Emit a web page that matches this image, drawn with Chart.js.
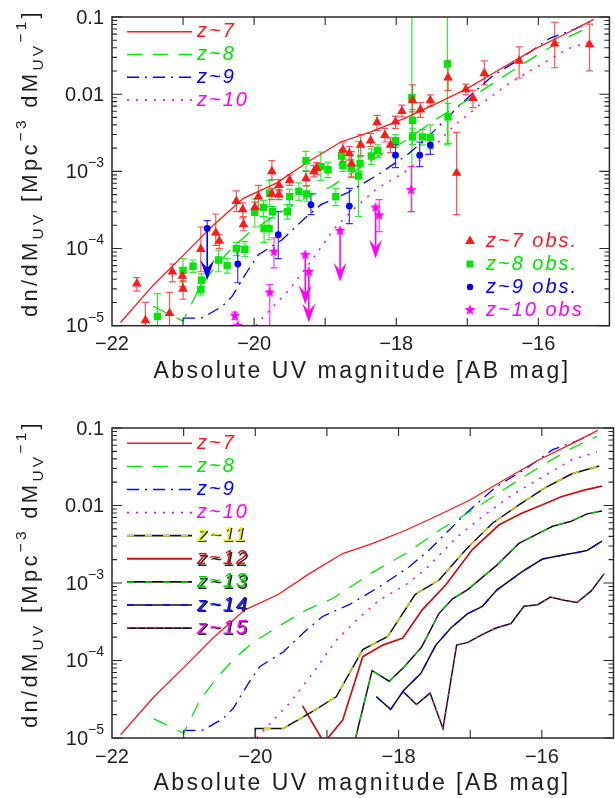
<!DOCTYPE html>
<html>
<head>
<meta charset="utf-8">
<script src="https://cdn.jsdelivr.net/npm/chart.js@4.4.1/dist/chart.umd.min.js"></script>
<style>
  html, body { margin: 0; padding: 0; background: #fff; }
  #wrap { position: relative; width: 615px; height: 798px; }
  #wrap canvas { position: absolute; left: 0; }
  #lfTop { top: 0; }
  #lfBottom { top: 399px; }
</style>
</head>
<body>
<div id="wrap">
  <canvas id="lfTop" width="615" height="399"></canvas>
  <canvas id="lfBottom" width="615" height="399"></canvas>
</div>
<script>
// ---------- axes ----------
const magMin = -22, magMax = -15;
const phiMin = 1e-5, phiMax = 0.1;
const xTickValues = [-22, -20, -18, -16];
const xTickLabels = ['\u221222', '\u221220', '\u221218', '\u221216'];
const yTickValues = [0.1, 0.01, 1e-3, 1e-4, 1e-5];
const yTickBase = ['0.1', '0.01', '10', '10', '10'];
const yTickExp = ['', '', '\u22123', '\u22124', '\u22125'];

// ---------- model UV luminosity functions [M_UV, dn/dM] ----------
const modelZ7 = [[-21.88,1.10e-5],[-21.42,3.35e-5],[-21.00,8.1e-5],[-20.59,1.95e-4],[-20.15,4.47e-4],
  [-19.68,7.1e-4],[-19.24,1.33e-3],[-18.78,2.40e-3],[-18.36,3.24e-3],[-17.90,4.79e-3],[-17.43,7.6e-3],
  [-17.01,1.17e-2],[-16.60,1.95e-2],[-16.04,3.89e-2],[-15.58,6.3e-2],[-15.22,9.3e-2]];
const modelZ8 = [[-21.42,1.78e-5],[-21.00,1.15e-5],[-20.77,3.09e-5],[-20.54,5.9e-5],[-20.31,1.02e-4],
  [-20.05,1.66e-4],[-19.68,2.75e-4],[-19.29,4.47e-4],[-18.92,6.3e-4],[-18.36,1.38e-3],[-17.90,2.40e-3],
  [-17.43,4.79e-3],[-16.97,8.7e-3],[-16.64,1.38e-2],[-16.32,2.14e-2],[-15.95,3.5e-2],[-15.58,5.5e-2],[-15.23,7.8e-2]];
const modelZ9 = [[-21.00,1.25e-5],[-20.73,1.26e-5],[-20.45,1.78e-5],[-20.31,2.4e-5],[-20.10,5.0e-5],
  [-19.94,8.3e-5],[-19.61,1.29e-4],[-19.29,2.45e-4],[-19.06,3.7e-4],[-18.69,5.25e-4],[-18.27,8.9e-4],
  [-17.85,1.62e-3],[-17.57,2.69e-3],[-17.06,7.9e-3],[-16.64,1.74e-2],[-16.22,3.0e-2],[-15.85,5.25e-2],
  [-15.48,7.0e-2],[-15.25,8.9e-2]];
const modelZ10 = [[-19.98,1.0e-5],[-19.75,1.70e-5],[-19.52,2.82e-5],[-19.20,6.8e-5],[-18.87,1.82e-4],
  [-18.59,3.3e-4],[-18.27,6.0e-4],[-17.90,9.5e-4],[-17.62,1.51e-3],[-17.20,3.8e-3],[-16.83,7.2e-3],
  [-16.41,1.38e-2],[-15.99,2.34e-2],[-15.58,3.9e-2],[-15.23,4.9e-2]];
const modelZ11 = [[-20.00,1.0e-5],[-20.00,1.33e-5],[-19.61,1.33e-5],[-19.24,2.1e-5],[-18.87,3.4e-5],
  [-18.50,1.38e-4],[-18.15,2.04e-4],[-17.77,7.1e-4],[-17.43,1.10e-3],[-17.06,2.7e-3],[-16.69,5.9e-3],
  [-16.32,1.02e-2],[-15.95,1.70e-2],[-15.58,2.57e-2],[-15.20,3.24e-2]];
const modelZ12 = [[-19.34,2.6e-5],[-19.04,8.7e-6],[-18.78,1.7e-5],[-18.50,1.12e-4],[-18.22,1.58e-4],
  [-17.94,1.95e-4],[-17.67,4.5e-4],[-17.34,9.5e-4],[-16.97,2.7e-3],[-16.60,5.6e-3],[-16.29,7.9e-3],
  [-15.99,1.02e-2],[-15.74,1.29e-2],[-15.41,1.58e-2],[-15.16,1.78e-2]];
const modelZ13 = [[-18.60,1.0e-5],[-18.37,7.4e-5],[-18.13,5.4e-5],[-17.92,8.3e-5],[-17.68,1.48e-4],
  [-17.44,4.0e-4],[-17.25,6.2e-4],[-17.03,8.3e-4],[-16.64,1.66e-3],[-16.32,3.24e-3],[-16.04,4.4e-3],
  [-15.85,5.4e-3],[-15.60,6.2e-3],[-15.37,7.8e-3],[-15.16,8.5e-3]];
const modelZ14 = [[-18.31,3.4e-5],[-18.11,2.34e-5],[-17.93,4.1e-5],[-17.69,6.8e-5],[-17.48,1.58e-4],
  [-17.27,2.63e-4],[-17.04,4.0e-4],[-16.83,5.0e-4],[-16.63,8.1e-4],[-16.27,1.41e-3],[-15.99,2.04e-3],
  [-15.76,2.24e-3],[-15.53,2.45e-3],[-15.37,2.63e-3],[-15.16,3.47e-3]];
const modelZ15 = [[-17.94,4.0e-5],[-17.75,2.7e-5],[-17.56,3.8e-5],[-17.38,1.32e-5],[-17.19,1.58e-4],
  [-17.04,1.70e-4],[-16.82,2.19e-4],[-16.64,2.63e-4],[-16.43,3.0e-4],[-16.25,5.0e-4],[-16.06,5.25e-4],
  [-15.88,6.6e-4],[-15.69,6.0e-4],[-15.51,5.6e-4],[-15.31,7.9e-4],[-15.13,1.32e-3]];

// ---------- observed points [M_UV, dn/dM, low, high] ----------
const obsZ7 = [[-21.65,3.5e-5,2.8e-5,4.2e-5],[-21.53,1.17e-5,5e-6,2.0e-5],[-21.19,1.45e-5,5e-6,2.7e-5],
  [-21.15,5.0e-5,3.7e-5,6.3e-5],[-21.01,4.4e-5,3.2e-5,5.6e-5],[-21.00,3.0e-5,2.2e-5,3.8e-5],
  [-20.75,9.8e-5,5.0e-5,1.9e-4],[-20.54,1.6e-4,1.1e-4,2.8e-4],[-20.49,1.25e-4,1.0e-4,1.5e-4],
  [-20.25,4.1e-4,3.0e-4,5.6e-4],[-20.16,3.2e-4,2.5e-4,3.9e-4],[-20.15,2.05e-4,1.7e-4,2.6e-4],
  [-19.99,3.4e-4,2.8e-4,4.0e-4],[-19.94,4.7e-4,3.3e-4,6.6e-4],[-19.75,1.0e-3,7.8e-4,1.38e-3],
  [-19.75,5.1e-4,4.3e-4,6.0e-4],[-19.65,6.6e-4,5.6e-4,7.8e-4],[-19.65,5.0e-4,4.3e-4,5.8e-4],
  [-19.50,7.7e-4,6.6e-4,9.0e-4],[-19.27,8.1e-4,6.5e-4,1.0e-3],[-19.16,1.0e-3,8.5e-4,1.2e-3],
  [-19.12,1.1e-3,9.0e-4,1.3e-3],[-18.75,1.9e-3,1.35e-3,2.4e-3],[-18.66,1.7e-3,1.4e-3,2.1e-3],
  [-18.63,1.26e-3,8.5e-4,1.8e-3],[-18.50,2.2e-3,1.6e-3,3.0e-3],[-18.36,2.5e-3,2.1e-3,3.1e-3],
  [-18.27,4.3e-3,3.4e-3,5.3e-3],[-18.16,2.95e-3,2.4e-3,3.6e-3],[-18.08,2.2e-3,1.75e-3,2.7e-3],
  [-18.01,4.4e-3,3.6e-3,5.2e-3],[-17.92,6.0e-3,5.1e-3,7.2e-3],[-17.77,8.3e-3,5.9e-3,1.32e-2],
  [-17.66,6.3e-3,5.0e-3,7.8e-3],[-17.52,8.3e-3,7.0e-3,9.8e-3],[-17.27,1.64e-2,1.12e-2,2.75e-2],
  [-17.15,9.5e-4,2.75e-4,3.2e-3],[-17.02,1.15e-2,9.8e-3,1.35e-2],[-16.92,8.9e-3,6.7e-3,1.12e-2],
  [-16.76,1.86e-2,1.32e-2,2.7e-2],[-16.27,2.7e-2,1.62e-2,4.1e-2],[-15.77,4.5e-2,2.2e-2,8.5e-2],
  [-15.28,4.4e-2,2.0e-2,8.1e-2]];
const obsZ8 = [[-21.36,1.32e-5,5e-6,2.6e-5],[-21.00,5.2e-5,3.7e-5,7.4e-5],[-20.86,5.9e-5,4.9e-5,7.1e-5],
  [-20.74,3.9e-5,3.2e-5,4.7e-5],[-20.75,2.95e-5,2.5e-5,3.5e-5],[-20.50,7.1e-5,5.0e-5,9.5e-5],
  [-20.38,6.0e-5,4.8e-5,7.4e-5],[-20.25,1.0e-4,8.1e-5,1.2e-4],[-20.13,9.8e-5,7.9e-5,1.23e-4],
  [-19.99,2.95e-4,1.9e-4,4.4e-4],[-19.87,3.4e-4,2.6e-4,4.2e-4],[-19.86,1.82e-4,1.2e-4,2.6e-4],
  [-19.79,1.82e-4,1.3e-4,2.5e-4],[-19.78,5.2e-4,3.5e-4,7.6e-4],[-19.74,3.0e-4,2.5e-4,3.5e-4],
  [-19.53,3.0e-4,2.4e-4,3.7e-4],[-19.50,4.7e-4,3.7e-4,5.9e-4],[-19.37,5.5e-4,4.2e-4,7.1e-4],
  [-19.27,1.38e-3,1.02e-3,1.82e-3],[-19.26,5.1e-4,4.1e-4,6.5e-4],[-19.06,1.15e-3,7.6e-4,1.78e-3],
  [-18.96,1.05e-3,8.3e-4,1.32e-3],[-18.85,4.7e-4,3.6e-4,6.0e-4],[-18.77,1.58e-3,1.23e-3,1.9e-3],
  [-18.75,1.2e-3,1.0e-3,1.45e-3],[-18.63,1.1e-3,8.3e-4,1.41e-3],[-18.53,8.7e-4,2.6e-4,2.45e-3],
  [-18.51,1.26e-3,1.0e-3,1.55e-3],[-18.35,1.58e-3,1.23e-3,1.95e-3],[-18.26,1.86e-3,1.51e-3,2.2e-3],
  [-18.01,2.5e-3,2.04e-3,3.0e-3],[-17.78,9.0e-3,3.0e-4,0.2],[-17.77,4.6e-3,3.2e-3,6.3e-3],
  [-17.77,2.8e-3,2.24e-3,3.55e-3],[-17.63,2.8e-3,2.2e-3,3.5e-3],[-17.52,2.75e-3,1.95e-3,4.0e-3],
  [-17.28,2.45e-2,2.2e-3,0.2],[-17.27,5.1e-3,2.3e-3,7.6e-3]];
const obsZ9 = [[-20.23,6.3e-5,3.6e-5,1.07e-4],[-19.66,1.51e-4,7.4e-5,3.0e-4],[-19.20,3.7e-4,2.75e-4,5.1e-4],
  [-18.66,3.55e-4,2.1e-4,6.0e-4],[-18.01,1.62e-3,1.12e-3,2.24e-3],[-17.67,1.62e-3,1.15e-3,2.4e-3],
  [-17.52,2.2e-3,1.66e-3,3.0e-3]];
const obsZ10 = [[-20.27,1.35e-5,1.2e-5,1.5e-5],[-20.23,1.0e-5,1.0e-5,1.0e-5],[-19.78,2.7e-5,5e-6,3.4e-5],
  [-19.72,9.1e-5,5.6e-5,1.38e-4],[-18.24,2.7e-4,1.66e-4,4.3e-4],[-17.79,5.75e-4,3.0e-4,1.15e-3]];
// upper limits [M_UV, dn/dM, arrow tip]
const limZ9 = [[-20.66,1.82e-4,3.9e-5]];
const limZ10 = [[-19.28,8.3e-5,1.9e-5],[-19.23,5.0e-5,1.1e-5],[-18.79,1.7e-4,3.7e-5],[-18.29,3.4e-4,7.4e-5]];

// ---------- line styles ----------
const RED = '#ff1a1a', GREEN = '#00e600', BLUE = '#0000ff', MAGENTA = '#ff00ff';
const styleZ7 = [{ color: RED, dash: [], width: 1.3 }];
const styleZ8 = [{ color: GREEN, dash: [15, 11], width: 1.3 }];
const styleZ9 = [{ color: BLUE, dash: [12, 6, 2, 6], width: 1.3 }];
const styleZ10 = [{ color: MAGENTA, dash: [2, 7], width: 1.6 }];
const styleZ11 = [{ color: '#111', dash: [], width: 1.5 }, { color: '#e0e000', dash: [7, 11], width: 1.3 }];
const styleZ12 = [{ color: '#cc1010', dash: [], width: 1.7 }];
const styleZ13 = [{ color: '#111', dash: [], width: 1.5 }, { color: '#00d000', dash: [7, 11], width: 1.3 }];
const styleZ14 = [{ color: '#111', dash: [], width: 1.5 }, { color: '#0000ff', dash: [7, 11], width: 1.3 }];
const styleZ15 = [{ color: '#111', dash: [], width: 1.5 }, { color: '#ff00ff', dash: [2, 7], width: 1.3 }];

const TEXT = '#1e1e1e';
const FONT = '"Liberation Sans", Arial, sans-serif';

const toXY = arr => arr.map(p => ({ x: p[0], y: p[1] }));

// underlay first (higher order = drawn further back), coloured overlay on top
function lineSets(model, style) {
  return style.map((s, j) => ({
    data: toXY(model), showLine: true, pointRadius: 0, pointHoverRadius: 0,
    borderColor: s.color, borderWidth: s.width, borderDash: s.dash, fill: false, tension: 0,
    order: 10 - j
  }));
}

function makeStar(r, color) {
  const c = document.createElement('canvas');
  const s = Math.ceil(r * 2 + 2);
  c.width = c.height = s;
  const g = c.getContext('2d');
  g.fillStyle = color;
  g.beginPath();
  for (let i = 0; i < 10; i++) {
    const a = -Math.PI / 2 + i * Math.PI / 5;
    const rr = i % 2 ? r * 0.42 : r;
    g.lineTo(s / 2 + rr * Math.cos(a), s / 2 + rr * Math.sin(a));
  }
  g.closePath();
  g.fill();
  return c;
}
const starImg = makeStar(5.8, MAGENTA);

function obsSet(obs, style, radius, color, extra) {
  return Object.assign({
    data: toXY(obs), showLine: false, pointStyle: style, pointRadius: radius, pointHoverRadius: radius,
    backgroundColor: color, borderColor: color, borderWidth: 0, errors: obs, errorColor: color, order: 2
  }, extra || {});
}

// draw several pieces of text (normal / sub / sup) stretched to a target length
function drawRich(ctx, pieces, x0, y0, target, center) {
  const base = pieces.baseSize;
  const sizeOf = p => p.size || (p.k === 'n' ? base : base * 0.7);
  ctx.letterSpacing = '0px';
  let w = 0, n = 0;
  pieces.items.forEach(p => {
    ctx.font = `${sizeOf(p)}px ${FONT}`;
    w += ctx.measureText(p.t).width;
    n += p.t.length;
  });
  const sp = Math.max(0, (target - w) / n);
  let x = center ? x0 - (w + sp * n) / 2 : x0;
  ctx.letterSpacing = sp.toFixed(2) + 'px';
  pieces.items.forEach(p => {
    ctx.font = `${sizeOf(p)}px ${FONT}`;
    let dy = 0;
    if (p.k === 'sup') dy = -base * 0.48;
    if (p.k === 'sub') dy = base * 0.28;
    ctx.fillText(p.t, x, y0 + dy);
    x += ctx.measureText(p.t).width;
  });
  ctx.letterSpacing = '0px';
}

function makeDecor(cfg) {
  return {
    id: 'decor',
    beforeDatasetsDraw(chart) {
      // error bars
      const { ctx, chartArea: a, scales: { x, y } } = chart;
      ctx.save();
      ctx.beginPath();
      ctx.rect(a.left, a.top, a.right - a.left, a.bottom - a.top);
      ctx.clip();
      chart.data.datasets.forEach(ds => {
        if (!ds.errors) return;
        ctx.strokeStyle = ds.errorColor;
        ctx.globalAlpha = 0.8;
        ctx.lineWidth = 1.2;
        ds.errors.forEach(r => {
          if (r[2] === r[3]) return;
          const px = x.getPixelForValue(r[0]);
          const lo = y.getPixelForValue(Math.max(r[2], 1e-7));
          const hi = y.getPixelForValue(Math.min(r[3], 1));
          ctx.beginPath();
          ctx.moveTo(px, lo); ctx.lineTo(px, hi);
          if (r[2] > phiMin) { ctx.moveTo(px - 3.5, lo); ctx.lineTo(px + 3.5, lo); }
          if (r[3] < phiMax) { ctx.moveTo(px - 3.5, hi); ctx.lineTo(px + 3.5, hi); }
          ctx.stroke();
        });
        ctx.globalAlpha = 1;
      });
      ctx.restore();
    },
    afterDatasetsDraw(chart) {
      // upper-limit arrows
      const { ctx, chartArea: a, scales: { x, y } } = chart;
      ctx.save();
      ctx.beginPath();
      ctx.rect(a.left, a.top, a.right - a.left, a.bottom - a.top);
      ctx.clip();
      chart.data.datasets.forEach(ds => {
        if (!ds.limits) return;
        ds.limits.forEach(r => {
          const px = x.getPixelForValue(r[0]);
          const py = y.getPixelForValue(r[1]);
          const pt = y.getPixelForValue(r[2]);
          const hw = ds.arrowHalf, hl = ds.arrowLen;
          ctx.strokeStyle = ds.arrowColor;
          ctx.fillStyle = ds.arrowColor;
          ctx.lineWidth = 1.6;
          ctx.beginPath();
          ctx.moveTo(px, py); ctx.lineTo(px, pt - hl * 0.5);
          ctx.stroke();
          ctx.beginPath();
          ctx.moveTo(px, pt);
          ctx.lineTo(px - hw, pt - hl);
          ctx.lineTo(px, pt - hl * 0.6);
          ctx.lineTo(px + hw, pt - hl);
          ctx.closePath();
          ctx.fill();
        });
      });
      ctx.restore();
    },
    afterDraw(chart) {
      const { ctx, chartArea: a, scales: { x, y } } = chart;
      ctx.save();
      // frame and ticks
      ctx.strokeStyle = '#2a2a2a';
      ctx.lineWidth = 1.5;
      ctx.strokeRect(a.left, a.top, a.right - a.left, a.bottom - a.top);
      ctx.lineWidth = 1.1;
      ctx.beginPath();
      for (let m = magMin + 1; m < magMax; m++) {
        const px = x.getPixelForValue(m);
        ctx.moveTo(px, a.bottom); ctx.lineTo(px, a.bottom - 8);
        ctx.moveTo(px, a.top); ctx.lineTo(px, a.top + 8);
      }
      for (let e = -5; e <= -1; e++) {
        for (let k = 1; k <= 9; k++) {
          const v = k * Math.pow(10, e);
          if (v > phiMax * 1.0001) break;
          const py = y.getPixelForValue(v);
          const len = k === 1 ? 10 : 5;
          ctx.moveTo(a.left, py); ctx.lineTo(a.left + len, py);
          ctx.moveTo(a.right, py); ctx.lineTo(a.right - len, py);
        }
      }
      ctx.stroke();

      // tick labels
      ctx.fillStyle = TEXT;
      ctx.textBaseline = 'middle';
      ctx.textAlign = 'center';
      ctx.font = `20px ${FONT}`;
      xTickValues.forEach((v, i) => {
        ctx.fillText(xTickLabels[i], x.getPixelForValue(v), a.bottom + 19);
      });
      ctx.textAlign = 'left';
      yTickValues.forEach((v, i) => {
        const py = y.getPixelForValue(v);
        ctx.font = `20px ${FONT}`;
        const wb = ctx.measureText(yTickBase[i]).width;
        ctx.font = `14px ${FONT}`;
        const we = yTickExp[i] ? ctx.measureText(yTickExp[i]).width : 0;
        const x0 = 104 - wb - we;
        ctx.font = `20px ${FONT}`;
        ctx.fillText(yTickBase[i], x0, py + 1);
        if (yTickExp[i]) {
          ctx.font = `14px ${FONT}`;
          ctx.fillText(yTickExp[i], x0 + wb, py - 8);
        }
      });

      // axis titles
      ctx.textBaseline = 'middle';
      drawRich(ctx, { baseSize: 23, items: [{ k: 'n', t: 'Absolute UV magnitude [AB mag]' }] },
        362, a.bottom + 46, 417, true);
      ctx.save();
      ctx.translate(37, a.top + 146);
      ctx.rotate(-Math.PI / 2);
      ctx.textBaseline = 'alphabetic';
      drawRich(ctx, { baseSize: 22, items: [
        { k: 'n', t: 'dn/dM' }, { k: 'sub', t: 'UV' }, { k: 'n', t: ' [Mpc' },
        { k: 'sup', t: '\u22123' }, { k: 'n', t: ' dM' }, { k: 'sub', t: 'UV' },
        { k: 'sup', t: '\u22121' }, { k: 'n', t: ']' }
      ] }, 0, 0, 308, true);
      ctx.restore();

      // legends
      ctx.textBaseline = 'middle';
      ctx.textAlign = 'left';
      cfg.legend.forEach((item, i) => {
        const ly = cfg.legendTop + i * cfg.legendStep;
        item.style.forEach(s => {
          ctx.strokeStyle = s.color;
          ctx.lineWidth = s.width + 0.2;
          ctx.setLineDash(s.dash);
          ctx.beginPath();
          ctx.moveTo(127, ly); ctx.lineTo(192, ly);
          ctx.stroke();
        });
        ctx.setLineDash([]);
        ctx.font = `italic 20px ${FONT}`;
        ctx.letterSpacing = '2px';
        if (item.shadow) {
          ctx.fillStyle = '#222';
          ctx.fillText(item.label, 198.2, ly + 1.2);
        }
        ctx.fillStyle = item.color;
        ctx.fillText(item.label, 197, ly);
        ctx.letterSpacing = '0px';
      });
      (cfg.obsLegend || []).forEach((item, i) => {
        const ly = 241 + i * 23;
        ctx.fillStyle = item.color;
        const mx = 470;
        ctx.beginPath();
        if (item.marker === 'triangle') {
          ctx.moveTo(mx, ly - 5.5); ctx.lineTo(mx + 5, ly + 3); ctx.lineTo(mx - 5, ly + 3); ctx.closePath(); ctx.fill();
        } else if (item.marker === 'rect') {
          ctx.fillRect(mx - 3.5, ly - 3.5, 7, 7);
        } else if (item.marker === 'circle') {
          ctx.arc(mx, ly, 3.2, 0, Math.PI * 2); ctx.fill();
        } else {
          ctx.drawImage(starImg, mx - starImg.width / 2, ly - starImg.height / 2);
        }
        ctx.font = `italic 20px ${FONT}`;
        ctx.letterSpacing = '2px';
        ctx.fillText(item.label, 486, ly);
        ctx.letterSpacing = '0px';
      });
      ctx.restore();
    }
  };
}

function makeChart(id, datasets, cfg) {
  return new Chart(document.getElementById(id), {
    type: 'scatter',
    data: { datasets },
    options: {
      responsive: false,
      animation: false,
      events: [],
      layout: { padding: { left: 0, top: cfg.top, right: 1.5, bottom: 0 } },
      plugins: { legend: { display: false }, tooltip: { enabled: false } },
      scales: {
        x: {
          type: 'linear', min: magMin, max: magMax,
          ticks: { display: false }, grid: { display: false }, border: { display: false },
          afterFit(s) { s.height = cfg.xHeight; }
        },
        y: {
          type: 'logarithmic', min: phiMin, max: phiMax,
          ticks: { display: false }, grid: { display: false }, border: { display: false },
          afterFit(s) { s.width = 112; }
        }
      }
    },
    plugins: [makeDecor(cfg)]
  });
}

// ---------- upper panel: models with observations ----------
const topSets = [
  ...lineSets(modelZ7, styleZ7), ...lineSets(modelZ8, styleZ8),
  ...lineSets(modelZ9, styleZ9), ...lineSets(modelZ10, styleZ10),
  obsSet(obsZ8, 'rect', 5.2, GREEN),
  obsSet(obsZ7, 'triangle', 5.6, RED, { errorColor: '#ff2a2a', order: 1 }),
  obsSet(obsZ9, 'circle', 3.4, BLUE, { order: 1 }),
  obsSet(obsZ10, starImg, 5, MAGENTA, { order: 1 }),
  obsSet(limZ9.map(r => [r[0], r[1], r[1], 2.3e-4]), 'circle', 3.4, BLUE,
    { limits: limZ9, arrowColor: BLUE, arrowHalf: 7, arrowLen: 20, order: 0 }),
  obsSet(limZ10.map(r => [r[0], r[1], r[1], r[1]]), starImg, 5, MAGENTA,
    { limits: limZ10, arrowColor: MAGENTA, arrowHalf: 6.5, arrowLen: 19, order: 0 })
];
makeChart('lfTop', topSets, {
  top: 17, xHeight: 73.3, legendTop: 31.7, legendStep: 22.8,
  legend: [
    { label: 'z~7', color: RED, style: styleZ7 },
    { label: 'z~8', color: GREEN, style: styleZ8 },
    { label: 'z~9', color: BLUE, style: styleZ9 },
    { label: 'z~10', color: MAGENTA, style: styleZ10 }
  ],
  obsLegend: [
    { label: 'z~7 obs.', color: RED, marker: 'triangle' },
    { label: 'z~8 obs.', color: GREEN, marker: 'rect' },
    { label: 'z~9 obs.', color: BLUE, marker: 'circle' },
    { label: 'z~10 obs', color: MAGENTA, marker: 'star' }
  ]
});

// ---------- lower panel: model predictions up to z~15 ----------
const bottomSets = [
  ...lineSets(modelZ7, styleZ7), ...lineSets(modelZ8, styleZ8),
  ...lineSets(modelZ9, styleZ9), ...lineSets(modelZ10, styleZ10),
  ...lineSets(modelZ11, styleZ11), ...lineSets(modelZ12, styleZ12),
  ...lineSets(modelZ13, styleZ13), ...lineSets(modelZ14, styleZ14),
  ...lineSets(modelZ15, styleZ15)
];
makeChart('lfBottom', bottomSets, {
  top: 29, xHeight: 60, legendTop: 44.3, legendStep: 23.1,
  legend: [
    { label: 'z~7', color: RED, style: styleZ7 },
    { label: 'z~8', color: GREEN, style: styleZ8 },
    { label: 'z~9', color: BLUE, style: styleZ9 },
    { label: 'z~10', color: MAGENTA, style: styleZ10 },
    { label: 'z~11', color: '#f0f000', style: styleZ11, shadow: true },
    { label: 'z~12', color: '#e01010', style: styleZ12, shadow: true },
    { label: 'z~13', color: '#00d000', style: styleZ13, shadow: true },
    { label: 'z~14', color: '#1010ff', style: styleZ14, shadow: true },
    { label: 'z~15', color: '#ff00ff', style: styleZ15, shadow: true }
  ]
});
</script>
</body>
</html>
